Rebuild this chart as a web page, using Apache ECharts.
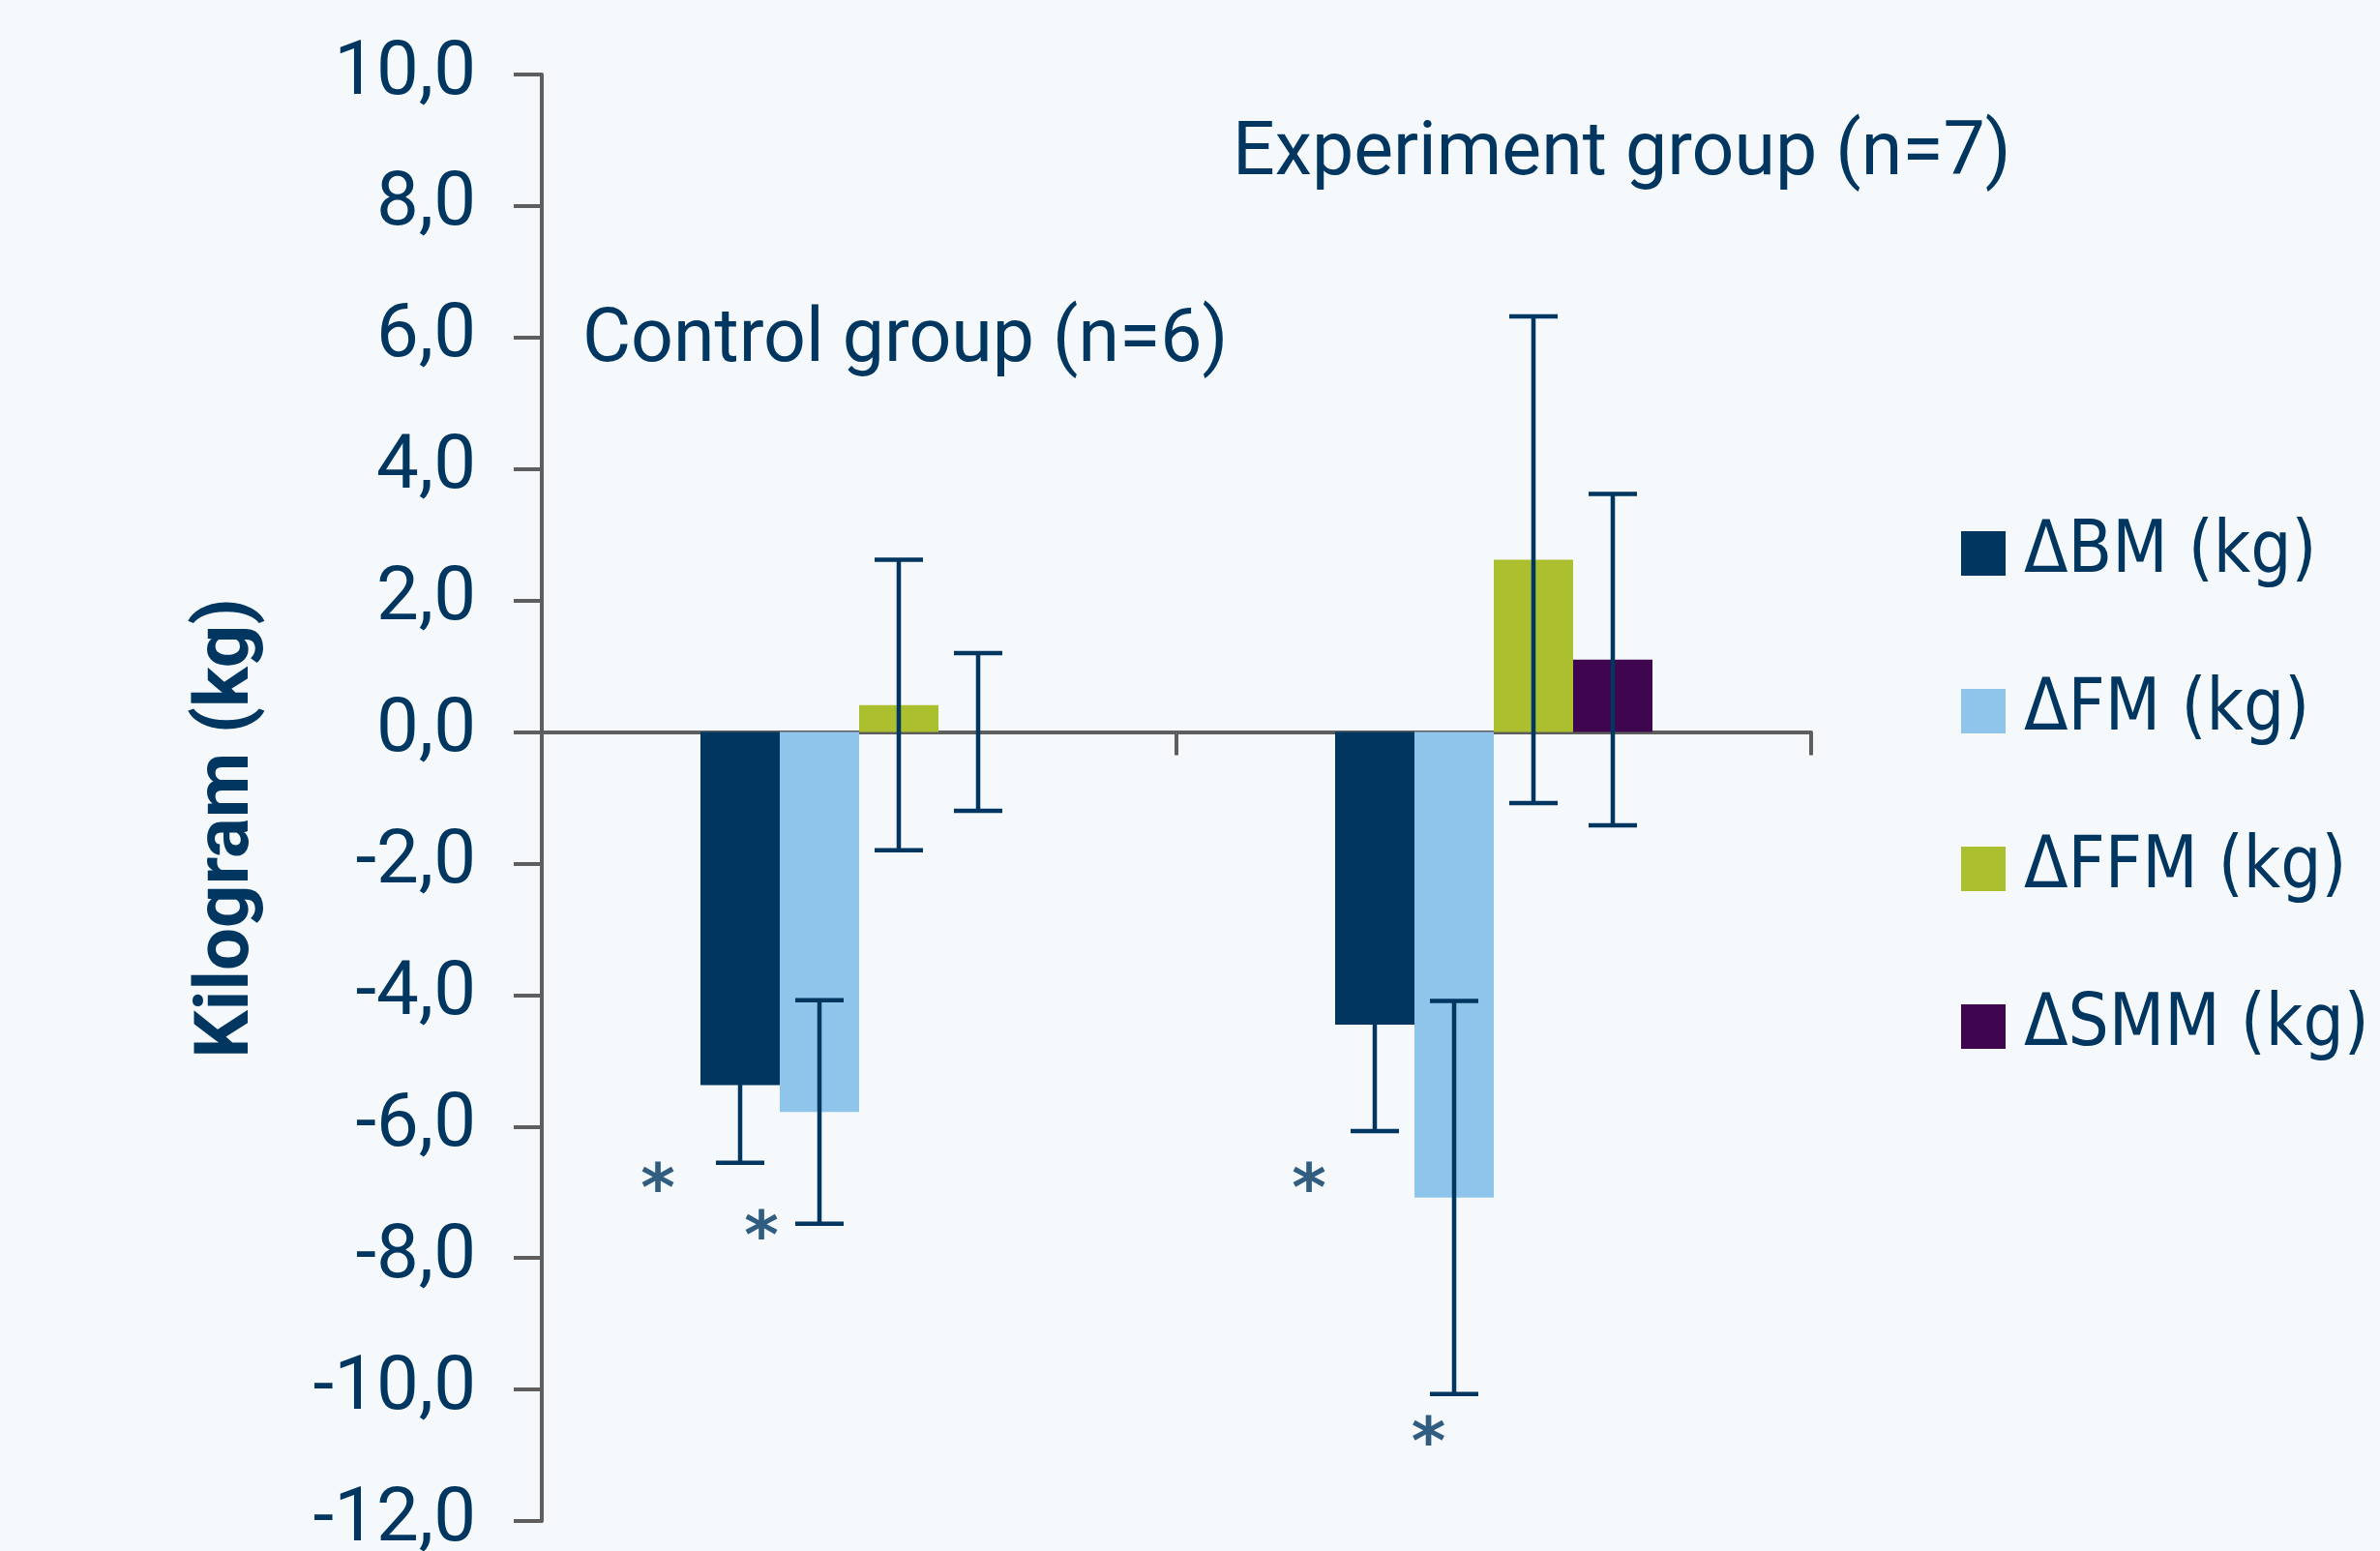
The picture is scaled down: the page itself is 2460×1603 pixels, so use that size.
<!DOCTYPE html>
<html>
<head>
<meta charset="utf-8">
<script src="https://cdn.jsdelivr.net/npm/echarts@6/dist/echarts.min.js"></script>
<style>
  html, body { margin: 0; padding: 0; background: #f5f9fc; }
  #chart { width: 2460px; height: 1603px; }
</style>
</head>
<body>
<div id="chart"></div>
<script>
// ---- data ----
const categories = ['Control group (n=6)', 'Experiment group (n=7)'];
const seriesNames = ['\u0394BM (kg)', '\u0394FM (kg)', '\u0394FFM (kg)', '\u0394SMM (kg)'];
const bmValues = [-5.37, -4.45];
const bmErrors = [1.18, 1.62];
const fmValues = [-5.78, -7.08];
const fmErrors = [1.70, 2.99];
const ffmValues = [0.41, 2.62];
const ffmErrors = [2.21, 3.70];
const smmValues = [0.0, 1.10];
const smmErrors = [1.20, 2.52];
const yMin = -12, yMax = 10, yInterval = 2;
// significance markers: x in category units (0 = first group centre), y in kg
const starX = [-0.317, -0.154, 0.709, 0.897];
const starY = [-6.80, -7.51, -6.80, -10.65];

// ---- styles ----
const navy = '#003660';
const colors = ['#00365f', '#8fc5ea', '#acbf2e', '#3f064f'];
const axisGray = '#5e5e5e';

const allValues = [bmValues, fmValues, ffmValues, smmValues];
const allErrors = [bmErrors, fmErrors, ffmErrors, smmErrors];

const errData = [];
allValues.forEach((vals, s) => {
  vals.forEach((v, c) => errData.push([c, v, allErrors[s][c], s]));
});

const chart = echarts.init(document.getElementById('chart'));

const barSeries = seriesNames.map((name, s) => ({
  name: name,
  type: 'bar',
  xAxisIndex: 0,
  yAxisIndex: 0,
  data: allValues[s],
  barGap: '0%',
  barCategoryGap: '50%',
  itemStyle: { color: colors[s] },
  z: 2,
  silent: true
}));

const option = {
  backgroundColor: '#f5f9fc',
  animation: false,
  grid: { left: 560, top: 77, width: 1312, height: 1495, containLabel: false, outerBoundsMode: 'none' },
  legend: {
    data: seriesNames,
    orient: 'vertical',
    left: 2022,
    top: 530,
    itemWidth: 46,
    itemHeight: 46,
    itemGap: 89,
    icon: 'rect',
    selectedMode: false,
    textStyle: {
      fontFamily: '"DejaVu Sans Condensed", "DejaVu Sans", sans-serif',
      fontSize: 74,
      color: navy,
      padding: [0, 0, 0, 14]
    }
  },
  xAxis: [
    {
      type: 'category',
      data: categories,
      boundaryGap: true,
      axisLine: { onZero: true, lineStyle: { color: axisGray, width: 4 } },
      axisTick: { show: true, length: 24, inside: false, lineStyle: { color: axisGray, width: 4 } },
      axisLabel: { show: false },
      splitLine: { show: false }
    },
    {
      type: 'value',
      min: -0.5,
      max: 1.5,
      show: false
    }
  ],
  yAxis: {
    type: 'value',
    min: yMin,
    max: yMax,
    interval: yInterval,
    axisLine: { show: true, onZero: false, lineStyle: { color: axisGray, width: 4 } },
    axisTick: { show: true, length: 29, inside: false, lineStyle: { color: axisGray, width: 4 } },
    splitLine: { show: false },
    axisLabel: {
      margin: 68,
      fontFamily: 'Roboto, sans-serif',
      fontSize: 78,
      color: navy,
      formatter: v => v.toFixed(1).replace('.', ',')
    }
  },
  graphic: [
    {
      type: 'text',
      x: 236, y: 856,
      rotation: Math.PI / 2,
      style: {
        text: 'Kilogram (kg)',
        fontFamily: 'Roboto, sans-serif',
        fontWeight: 'bold',
        fontSize: 78,
        fill: navy,
        align: 'center',
        verticalAlign: 'middle'
      }
    },
    {
      type: 'text',
      x: 602, y: 354,
      style: {
        text: categories[0],
        fontFamily: 'Roboto, sans-serif',
        fontSize: 77,
        fill: navy,
        align: 'left',
        verticalAlign: 'middle'
      }
    },
    {
      type: 'text',
      x: 1274, y: 161,
      style: {
        text: categories[1],
        fontFamily: 'Roboto, sans-serif',
        fontSize: 77,
        fill: navy,
        align: 'left',
        verticalAlign: 'middle'
      }
    }
  ],
  series: barSeries.concat([
    {
      name: 'errors',
      type: 'custom',
      xAxisIndex: 0,
      yAxisIndex: 0,
      data: errData,
      z: 5,
      silent: true,
      renderItem: function (params, api) {
        const c = api.value(0), v = api.value(1), e = api.value(2), s = api.value(3);
        const band = api.size([1, 0])[0];
        const bw = band * 0.5 / 4;
        const cx = api.coord([c, 0])[0] + (s - 1.5) * bw;
        const yHi = api.coord([c, v + e])[1];
        const yLo = api.coord([c, v - e])[1];
        const capHalf = 25;
        const st = { stroke: navy, lineWidth: 4.5, fill: null };
        return {
          type: 'group',
          children: [
            { type: 'line', shape: { x1: cx, y1: yHi, x2: cx, y2: yLo }, style: st },
            { type: 'line', shape: { x1: cx - capHalf, y1: yHi, x2: cx + capHalf, y2: yHi }, style: st },
            { type: 'line', shape: { x1: cx - capHalf, y1: yLo, x2: cx + capHalf, y2: yLo }, style: st }
          ]
        };
      }
    },
    {
      name: 'stars',
      type: 'scatter',
      xAxisIndex: 1,
      yAxisIndex: 0,
      data: starX.map((x, i) => [x, starY[i]]),
      symbolSize: 0,
      silent: true,
      z: 6,
      label: {
        show: true,
        position: 'inside',
        formatter: '*',
        fontFamily: '"DejaVu Sans", sans-serif',
        fontWeight: 'bold',
        fontSize: 68,
        color: navy,
        offset: [0, 15]
      }
    }
  ])
};

chart.setOption(option);
</script>
</body>
</html>
